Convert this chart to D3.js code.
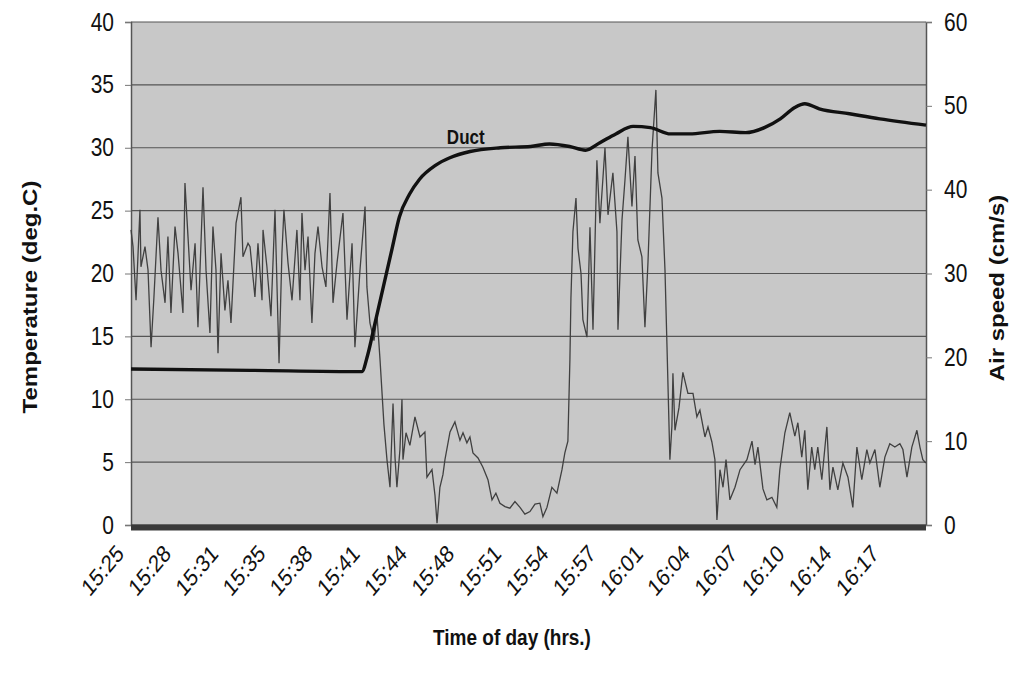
<!DOCTYPE html>
<html>
<head>
<meta charset="utf-8">
<script src="https://cdn.jsdelivr.net/npm/d3@7"></script>
<style>
  body { margin: 0; background: #fff; }
  text { font-family: Arial, "Liberation Sans", sans-serif; fill: #111; }
</style>
</head>
<body>
<div id="chart"></div>
<script>
// x tick labels, one every tickStep minutes after the first sample (15:25)
const tickLabels = ["15:25", "15:28", "15:31", "15:35", "15:38", "15:41", "15:44", "15:48", "15:51",
                    "15:54", "15:57", "16:01", "16:04", "16:07", "16:10", "16:14", "16:17"];
const tickStep = 3.27;
const totalMinutes = 55.1;

const tempTicks = [0, 5, 10, 15, 20, 25, 30, 35, 40];
const speedTicks = [0, 10, 20, 30, 40, 50, 60];

// Duct temperature (deg.C), [minute, value]
const ductTemp = [
  [0, 12.4], [8.25, 12.3], [16.0, 12.2], [16.4, 13.5], [16.9, 16], [17.5, 19], [18.1, 22],
  [18.6, 24.5], [19.3, 26.3], [20.0, 27.5], [21.1, 28.6], [22.1, 29.2], [23.5, 29.7],
  [25.6, 30.0], [27.7, 30.1], [29.0, 30.3], [30.4, 30.1], [31.5, 29.8], [32.5, 30.4],
  [33.6, 31.1], [34.8, 31.7], [36.0, 31.6], [37.4, 31.1], [38.7, 31.1], [40.8, 31.3],
  [42.6, 31.2], [43.9, 31.6], [45.0, 32.3], [46.0, 33.2], [46.7, 33.5], [47.7, 33.1],
  [49.8, 32.7], [51.9, 32.3], [55.1, 31.8]
];

// Air speed (cm/s), [minute, value]
const airSpeed = [
  [0.00, 35.2], [0.14, 33.2], [0.35, 26.8], [0.62, 37.6], [0.69, 30.8], [0.97, 33.2], [1.18, 30.4],
  [1.39, 21.2], [1.59, 27.2], [1.87, 36.7], [2.08, 30.4], [2.36, 26.5], [2.56, 34.4], [2.77, 25.3],
  [3.05, 35.6], [3.26, 32.4], [3.60, 25.3], [3.74, 40.8], [3.95, 34.4], [4.16, 28.0], [4.44, 33.6],
  [4.64, 23.6], [4.99, 40.3], [5.20, 30.4], [5.47, 22.9], [5.68, 35.6], [5.89, 30.4], [6.03, 20.5],
  [6.24, 32.4], [6.51, 25.6], [6.72, 29.2], [6.93, 24.1], [7.28, 36.0], [7.62, 39.1], [7.76, 32.0],
  [8.11, 33.6], [8.25, 33.2], [8.59, 27.2], [8.80, 33.6], [9.08, 26.8], [9.15, 35.2], [9.42, 30.8],
  [9.70, 24.9], [9.98, 37.6], [10.26, 19.3], [10.46, 32.4], [10.60, 37.6], [10.88, 31.3],
  [11.16, 26.8], [11.50, 35.2], [11.71, 26.8], [11.85, 37.2], [12.06, 30.4], [12.27, 34.4],
  [12.54, 24.1], [12.75, 32.4], [12.96, 35.6], [13.24, 30.8], [13.51, 28.4], [13.79, 39.6],
  [14.00, 26.5], [14.28, 31.3], [14.69, 37.2], [14.97, 24.5], [15.32, 33.6], [15.52, 21.2],
  [15.87, 30.4], [16.22, 38.0], [16.35, 28.4], [16.56, 24.1], [16.84, 22.0], [17.05, 25.0],
  [17.26, 19.7], [17.53, 12.0], [17.74, 7.8], [17.95, 4.5], [18.16, 14.5], [18.30, 8.0],
  [18.43, 4.5], [18.64, 9.0], [18.78, 15.0], [18.85, 7.8], [19.06, 11.0], [19.33, 9.5],
  [19.68, 12.9], [20.03, 10.5], [20.37, 11.1], [20.51, 5.7], [20.86, 6.6], [21.07, 3.5],
  [21.21, 0.2], [21.41, 4.5], [21.62, 6.0], [21.76, 7.8], [22.11, 11.1], [22.45, 12.3],
  [22.80, 10.1], [23.01, 11.0], [23.28, 9.8], [23.49, 10.5], [23.70, 8.6], [24.05, 8.0],
  [24.39, 6.9], [24.74, 5.4], [25.02, 3.0], [25.29, 3.8], [25.57, 2.6], [25.92, 2.2],
  [26.26, 2.0], [26.61, 2.8], [26.96, 2.1], [27.30, 1.3], [27.65, 1.6], [28.00, 2.5],
  [28.34, 2.6], [28.55, 1.0], [28.83, 2.1], [29.17, 4.5], [29.52, 3.8], [29.87, 6.6],
  [30.07, 8.6], [30.28, 10.0], [30.42, 19.7], [30.49, 27.0], [30.63, 35.0], [30.84, 39.0],
  [30.98, 33.0], [31.19, 30.0], [31.32, 24.5], [31.60, 22.4], [31.81, 35.5], [32.02, 23.3],
  [32.29, 43.5], [32.50, 36.0], [32.85, 45.0], [33.06, 37.0], [33.40, 42.0], [33.68, 35.0],
  [33.75, 23.3], [34.03, 36.4], [34.23, 41.0], [34.44, 46.3], [34.72, 38.0], [34.93, 44.0],
  [35.13, 34.0], [35.41, 32.0], [35.62, 23.6], [35.83, 31.3], [36.11, 44.7], [36.38, 51.9],
  [36.52, 42.0], [36.80, 39.0], [37.01, 30.4], [37.15, 21.2], [37.35, 7.8], [37.49, 11.8],
  [37.56, 18.1], [37.70, 11.3], [37.98, 14.0], [38.25, 18.2], [38.60, 15.7], [38.95, 15.7],
  [39.22, 12.9], [39.43, 13.7], [39.78, 10.5], [39.99, 11.7], [40.26, 9.9], [40.47, 7.8],
  [40.61, 0.6], [40.82, 6.6], [41.03, 4.5], [41.24, 7.8], [41.51, 3.0], [41.86, 4.5],
  [42.21, 6.6], [42.69, 7.8], [43.04, 10.0], [43.25, 7.2], [43.45, 9.3], [43.80, 4.3],
  [44.07, 3.0], [44.42, 3.3], [44.76, 2.1], [44.97, 6.6], [45.32, 11.0], [45.66, 13.4],
  [46.01, 10.6], [46.22, 12.2], [46.49, 8.1], [46.70, 11.3], [46.91, 4.2], [47.18, 9.3],
  [47.39, 6.6], [47.60, 9.3], [47.88, 5.4], [48.23, 11.7], [48.44, 4.2], [48.65, 6.9],
  [48.99, 4.2], [49.34, 7.4], [49.69, 5.7], [50.03, 2.1], [50.31, 9.3], [50.65, 5.4],
  [51.00, 9.0], [51.21, 7.4], [51.56, 9.0], [51.90, 4.5], [52.25, 8.1], [52.59, 9.7],
  [52.94, 9.3], [53.29, 9.7], [53.50, 9.0], [53.78, 5.7], [54.12, 9.3], [54.47, 11.3],
  [54.68, 9.3], [54.88, 7.8], [55.09, 7.4]
];

const W = 1017, H = 678;
const margin = { left: 131, right: 91, top: 22, bottom: 153 };
const stretch = 1.2; // the scanned figure is taller than wide

const svg = d3.select("#chart").append("svg")
    .attr("width", W)
    .attr("height", H);

const x = d3.scaleLinear().domain([0, totalMinutes]).range([margin.left, W - margin.right]);
const yT = d3.scaleLinear().domain([0, 40]).range([H - margin.bottom, margin.top]);
const yS = d3.scaleLinear().domain([0, 60]).range([H - margin.bottom, margin.top]);

// plot background
svg.append("rect")
    .attr("x", x(0)).attr("y", yT(40))
    .attr("width", x(totalMinutes) - x(0))
    .attr("height", yT(0) - yT(40))
    .attr("fill", "#c8c8c8");

// gridlines
svg.append("g")
    .selectAll("line")
    .data(tempTicks)
    .enter()
    .append("line")
    .attr("x1", x(0)).attr("x2", x(totalMinutes))
    .attr("y1", d => yT(d)).attr("y2", d => yT(d))
    .attr("stroke", "#555")
    .attr("stroke-width", 1.2);

// left axis
const leftAxis = svg.append("g")
    .attr("transform", `translate(${x(0)},0)`)
    .call(d3.axisLeft(yT).tickValues(tempTicks).tickSize(6).tickPadding(11));
leftAxis.select(".domain").attr("stroke", "#555").attr("stroke-width", 1.5);
leftAxis.selectAll(".tick line").attr("stroke", "#777");
leftAxis.selectAll(".tick text").style("font-size", "21px").attr("fill", "#111")
    .attr("transform", `scale(1,${stretch})`);

// right axis
const rightAxis = svg.append("g")
    .attr("transform", `translate(${x(totalMinutes)},0)`)
    .call(d3.axisRight(yS).tickValues(speedTicks).tickSize(6).tickPadding(12));
rightAxis.select(".domain").attr("stroke", "#555").attr("stroke-width", 1.5);
rightAxis.selectAll(".tick line").attr("stroke", "#777");
rightAxis.selectAll(".tick text").style("font-size", "21px").attr("fill", "#111")
    .attr("transform", `scale(1,${stretch})`);

// air speed line
const speedLine = d3.line()
    .x(d => x(d[0]))
    .y(d => yS(d[1]));

svg.append("path")
    .datum(airSpeed)
    .attr("d", speedLine)
    .attr("fill", "none")
    .attr("stroke", "#404040")
    .attr("stroke-width", 1.3);

// duct temperature line
const tempLine = d3.line()
    .x(d => x(d[0]))
    .y(d => yT(d[1]))
    .curve(d3.curveMonotoneX);

svg.append("path")
    .datum(ductTemp)
    .attr("d", tempLine)
    .attr("fill", "none")
    .attr("stroke", "#111")
    .attr("stroke-width", 3.4);

svg.append("text")
    .attr("transform", `translate(${x(23.2)},${yT(30.3)}) scale(1,${stretch})`)
    .attr("text-anchor", "middle")
    .style("font-size", "17px")
    .style("font-weight", "bold")
    .text("Duct");

// bottom axis: dense category ticks form a dark band
svg.append("line")
    .attr("x1", x(0)).attr("x2", x(totalMinutes))
    .attr("y1", yT(0) + 2.5).attr("y2", yT(0) + 2.5)
    .attr("stroke", "#3a3a3a")
    .attr("stroke-width", 6);

// x tick labels
svg.append("g")
    .selectAll("text")
    .data(tickLabels)
    .enter()
    .append("text")
    .attr("transform", (d, i) => `translate(${x(i * tickStep) - 6},${yT(0) + 30}) scale(1,${stretch}) rotate(-45)`)
    .attr("text-anchor", "end")
    .style("font-size", "20px")
    .text(d => d);

// axis titles
svg.append("text")
    .attr("transform", `translate(37,297) rotate(-90) scale(${stretch},1)`)
    .attr("text-anchor", "middle")
    .style("font-size", "20px")
    .style("font-weight", "bold")
    .text("Temperature (deg.C)");

svg.append("text")
    .attr("transform", `translate(1004,288) rotate(-90) scale(${stretch},1)`)
    .attr("text-anchor", "middle")
    .style("font-size", "20px")
    .style("font-weight", "bold")
    .text("Air speed (cm/s)");

svg.append("text")
    .attr("transform", `translate(512,645) scale(1,${stretch})`)
    .attr("text-anchor", "middle")
    .style("font-size", "19px")
    .style("font-weight", "bold")
    .text("Time of day (hrs.)");
</script>
</body>
</html>
